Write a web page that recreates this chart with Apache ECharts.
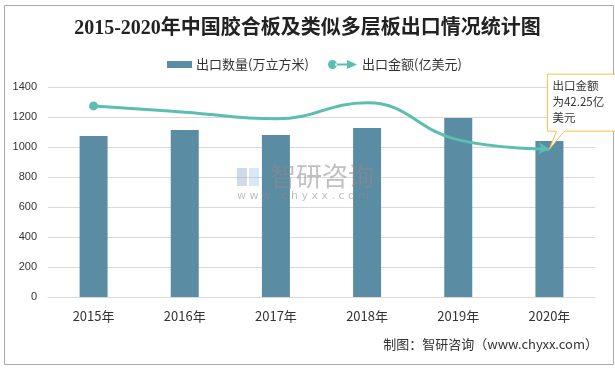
<!DOCTYPE html>
<html><head><meta charset="utf-8">
<script src="https://cdn.jsdelivr.net/npm/echarts@6/dist/echarts.min.js"></script>
<style>html,body{margin:0;padding:0;background:#fff}#c{width:615px;height:369px}</style>
</head><body><div id="c"></div>
<script>
const years = ['2015年','2016年','2017年','2018年','2019年','2020年'];
const qty = [1073, 1113, 1080, 1127, 1193, 1040];
const amount = [54.6, 52.8, 50.9, 55.5, 44.9, 42.25];
const yTicks = [0, 200, 400, 600, 800, 1000, 1200, 1400];
const calloutText = '出口金额\n为42.25亿\n美元';

const chart = echarts.init(document.getElementById('c'));
const lineData = amount.map((v, i) => {
  if (i === 0) return {value: v, symbol: 'circle', symbolSize: 9};
  if (i === amount.length - 1) return {value: v, symbol: 'arrow', symbolSize: [9, 11], symbolRotate: -95};
  return {value: v, symbol: 'none'};
});
chart.setOption({
  animation: false,
  title: {
    text: '2015-2020年中国胶合板及类似多层板出口情况统计图',
    left: 'center', top: 14,
    textStyle: {fontSize: 20, fontWeight: 'bold', color: '#222', fontFamily: "'Liberation Serif','Noto Sans CJK SC'"}
  },
  legend: [{
    left: 162, top: 53, itemWidth: 25, itemHeight: 7, itemGap: 5,
    data: [{name: '出口数量(万立方米)', icon: 'rect'}],
    textStyle: {fontSize: 13, color: '#333', fontFamily: "'Noto Sans CJK SC'", padding: [0, 0, 0, -1]}
  }, {
    left: 323, top: 53, itemWidth: 29, itemHeight: 10,
    data: [{name: '出口金额(亿美元)', icon: 'path://M0,5a4.5,4.5 0 1,0 9,0a4.5,4.5 0 1,0 -9,0Z M7,4H21V6H7Z M19,0.5L29,5L19,9.5Z'}],
    textStyle: {fontSize: 13, color: '#333', fontFamily: "'Noto Sans CJK SC'"}
  }],
  grid: {left: 48, right: 20, top: 87, bottom: 72},
  xAxis: {
    type: 'category', data: years,
    axisLine: {lineStyle: {color: '#d9d9d9'}},
    axisTick: {show: false},
    axisLabel: {fontSize: 13, color: '#333', margin: 13, fontFamily: "'Noto Sans CJK SC'"}
  },
  yAxis: [{
    type: 'value', min: yTicks[0], max: yTicks[yTicks.length - 1], interval: 200,
    axisLabel: {fontSize: 11, color: '#333', margin: 11, fontFamily: "'Liberation Sans'", formatter: v => String(v)},
    axisLine: {show: false}, axisTick: {show: false},
    splitLine: {lineStyle: {color: '#d9d9d9'}}
  }, {
    type: 'value', min: 0, max: 60, show: false, splitLine: {show: false}
  }],
  series: [{
    name: '出口数量(万立方米)', type: 'bar', data: qty, barWidth: 28,
    itemStyle: {color: '#5a8ca4'}
  }, {
    name: '出口金额(亿美元)', type: 'line', yAxisIndex: 1, data: lineData,
    smooth: 0.45, showSymbol: true,
    lineStyle: {color: '#5cbdb1', width: 3},
    itemStyle: {color: '#5cbdb1'}
  }]
});

const last = amount.length - 1;
const tip = chart.convertToPixel({xAxisIndex: 0, yAxisIndex: 1}, [last, amount[last]]);
const bx = tip[0] - 2, by = tip[1] - 75, bw = 70, bh = 57;
chart.setOption({
  graphic: [
    {type: 'rect', left: 2, top: 3, shape: {width: 609, height: 359}, style: {fill: 'none', stroke: '#aaa', lineWidth: 1}, silent: true},
    {type: 'text', left: 270, top: 163, style: {text: '智研咨询', fontSize: 26, fill: 'rgba(140,140,140,0.55)', fontFamily: "'Noto Sans CJK SC'"}, z: 50},
    {type: 'text', left: 237, top: 191, style: {text: 'w w w . c h y x x . c o m', fontSize: 11, fill: 'rgba(140,140,140,0.55)', fontFamily: "'DejaVu Sans'"}, z: 50},
    {type: 'rect', left: 237, top: 168, shape: {width: 10, height: 18}, style: {fill: 'rgba(120,150,190,0.35)'}, z: 50},
    {type: 'rect', left: 249, top: 168, shape: {width: 10, height: 18}, style: {fill: 'rgba(150,190,230,0.35)'}, z: 50},
    {type: 'polygon', shape: {points: [
      [bx, by], [bx + bw, by], [bx + bw, by + bh], [bx + 17, by + bh], [tip[0], tip[1]], [bx + 9, by + bh], [bx, by + bh]
    ]}, style: {fill: '#fff', stroke: '#f5c242', lineWidth: 1}, z: 100},
    {type: 'text', left: bx + 5, top: by + 3, style: {text: calloutText, fontSize: 11.5, lineHeight: 16, fill: '#333', fontFamily: "'Noto Sans CJK SC'"}, z: 101},
    {type: 'text', right: 17, top: 338, style: {text: '制图：智研咨询（www.chyxx.com）', fontSize: 13, fill: '#333', fontFamily: "'Noto Sans CJK SC'"}}
  ]
});
</script></body></html>
